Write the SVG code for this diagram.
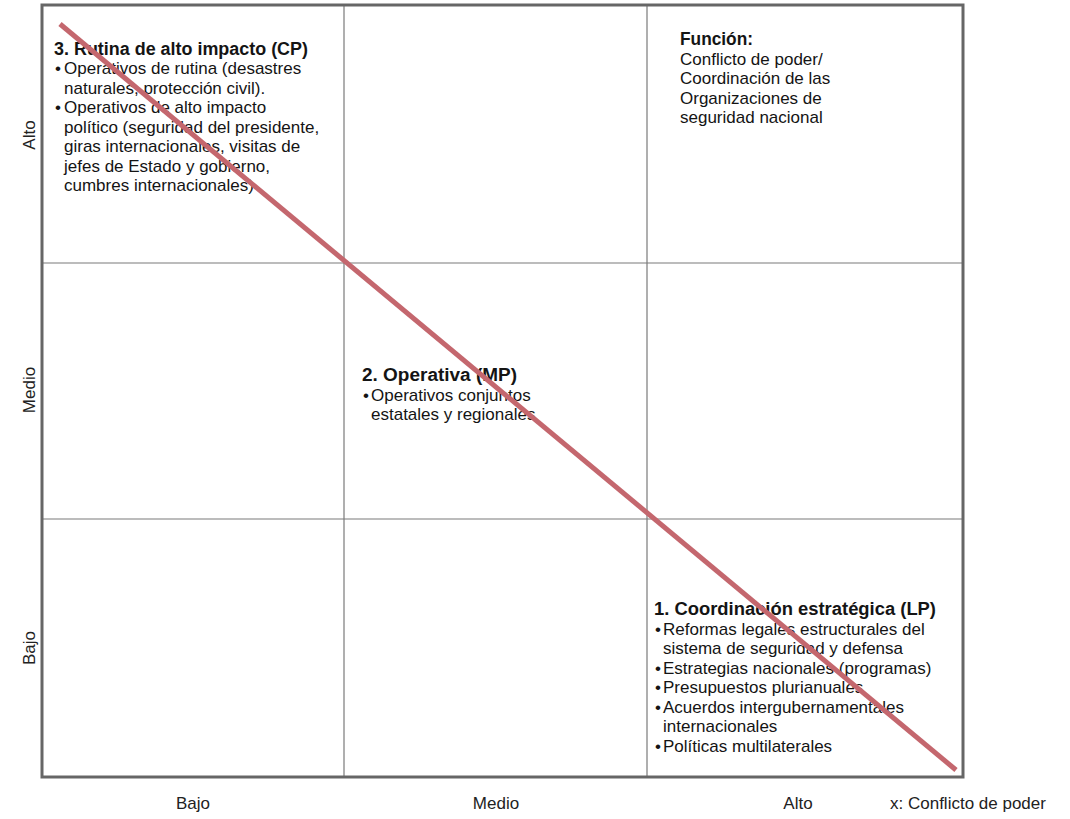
<svg xmlns="http://www.w3.org/2000/svg" width="1070" height="819" viewBox="0 0 1070 819">
<style>
text{font-family:"Liberation Sans","Arial",sans-serif;fill:#141414;font-size:17px}
.b{font-weight:bold;font-size:17.5px}
.ax{font-size:17px;fill:#222}
.grid{stroke:#7a7a7a;stroke-width:1.2;fill:none}
</style>
<rect width="1070" height="819" fill="#ffffff"/>
<g id="grid">
<line class="grid" x1="344" y1="5" x2="344" y2="777"/>
<line class="grid" x1="647" y1="5" x2="647" y2="777"/>
<line class="grid" x1="42" y1="263" x2="963" y2="263"/>
<line class="grid" x1="42" y1="519" x2="963" y2="519"/>
<rect x="42" y="5" width="921" height="772" fill="none" stroke="#666666" stroke-width="3"/>
</g>
<g id="cell-cp">
<text class="b" x="54" y="55" textLength="254" lengthAdjust="spacingAndGlyphs">3. Rutina de alto impacto (CP)</text>
<text x="55" y="74">•</text><text x="64" y="74">Operativos de rutina (desastres</text>
<text x="64" y="94">naturales, protección civil).</text>
<text x="55" y="113">•</text><text x="64" y="113">Operativos de alto impacto</text>
<text x="64" y="133">político (seguridad del presidente,</text>
<text x="64" y="152">giras internacionales, visitas de</text>
<text x="64" y="172">jefes de Estado y gobierno,</text>
<text x="64" y="191">cumbres internacionales)</text>
</g>
<g id="cell-funcion">
<text class="b" x="680" y="45" textLength="73" lengthAdjust="spacingAndGlyphs">Función:</text>
<text x="680" y="65">Conflicto de poder/</text>
<text x="680" y="84">Coordinación de las</text>
<text x="680" y="104">Organizaciones de</text>
<text x="680" y="123">seguridad nacional</text>
</g>
<g id="cell-mp">
<text class="b" x="362" y="381" textLength="155" lengthAdjust="spacingAndGlyphs">2. Operativa (MP)</text>
<text x="363" y="401">•</text><text x="371" y="401">Operativos conjuntos</text>
<text x="371" y="420">estatales y regionales</text>
</g>
<g id="cell-lp">
<text class="b" x="654" y="615" textLength="282" lengthAdjust="spacingAndGlyphs">1. Coordinación estratégica (LP)</text>
<text x="655" y="635">•</text><text x="663" y="635">Reformas legales estructurales del</text>
<text x="663" y="654">sistema de seguridad y defensa</text>
<text x="655" y="674">•</text><text x="663" y="674">Estrategias nacionales (programas)</text>
<text x="655" y="693">•</text><text x="663" y="693">Presupuestos plurianuales</text>
<text x="655" y="713">•</text><text x="663" y="713">Acuerdos intergubernamentales</text>
<text x="663" y="732">internacionales</text>
<text x="655" y="752">•</text><text x="663" y="752">Políticas multilaterales</text>
</g>
<g id="axes">
<text class="ax" x="193" y="809" text-anchor="middle">Bajo</text>
<text class="ax" x="496" y="809" text-anchor="middle">Medio</text>
<text class="ax" x="798" y="809" text-anchor="middle">Alto</text>
<text class="ax" x="890" y="809">x: Conflicto de poder</text>
<text class="ax" transform="translate(35,135) rotate(-90)" text-anchor="middle">Alto</text>
<text class="ax" transform="translate(35,390) rotate(-90)" text-anchor="middle">Medio</text>
<text class="ax" transform="translate(35,648) rotate(-90)" text-anchor="middle">Bajo</text>
</g>
<g id="connectors">
<line x1="60" y1="24" x2="956" y2="770" stroke="#c4676e" stroke-width="5"/>
</g>
</svg>
